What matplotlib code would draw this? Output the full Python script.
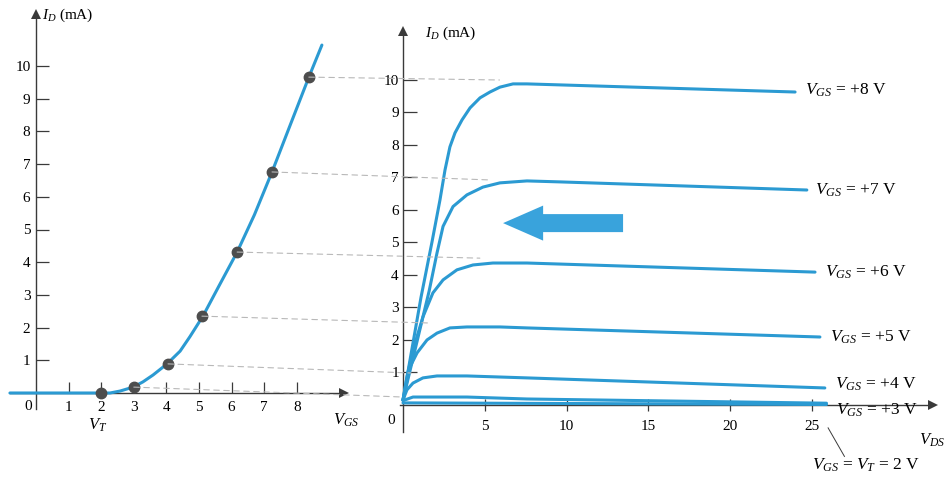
import matplotlib
matplotlib.use("Agg")
import matplotlib.pyplot as plt
from matplotlib.patches import ConnectionPatch, FancyArrow

plt.rcParams["font.family"] = ["Liberation Serif", "DejaVu Serif"]
plt.rcParams["mathtext.fontset"] = "custom"
plt.rcParams["mathtext.rm"] = "Liberation Serif"
plt.rcParams["mathtext.it"] = "Liberation Serif:italic"

# ---------------- data ----------------
# transfer characteristic (left)
vgs_curve = [-0.8, 2.0, 2.27, 2.58, 2.98, 3.28, 3.59, 4.02, 4.42, 4.72, 5.12, 5.6, 6.17, 6.7, 7.24, 7.8, 8.37, 8.77]
id_curve = [0.0, 0.0, 0.0, 0.06, 0.18, 0.34, 0.55, 0.89, 1.28, 1.72, 2.35, 3.25, 4.31, 5.45, 6.76, 8.2, 9.66, 10.64]
vgs_points = [2.0, 3.0, 4.05, 5.09, 6.17, 7.24, 8.37]
id_points = [0.0, 0.18, 0.89, 2.35, 4.31, 6.76, 9.66]

# drain characteristics (right)
vds_8 = [0, 1.1, 1.77, 2.26, 2.57, 2.87, 3.18, 3.61, 4.10, 4.71, 5.32, 5.93, 6.73, 7.58, 23.98]
id_8 = [0.14, 3.3, 5.0, 6.30, 7.23, 7.94, 8.37, 8.77, 9.14, 9.45, 9.63, 9.78, 9.88, 9.88, 9.63]
vds_7 = [0, 1.6, 2.08, 2.45, 3.06, 3.91, 4.89, 5.93, 7.58, 9.60, 24.7]
id_7 = [0.14, 3.5, 4.67, 5.49, 6.10, 6.46, 6.70, 6.83, 6.89, 6.86, 6.61]
vds_6 = [0, 0.24, 0.61, 1.22, 1.83, 2.45, 3.30, 4.28, 5.50, 7.58, 25.2]
id_6 = [0.14, 0.85, 1.68, 2.70, 3.44, 3.84, 4.15, 4.30, 4.36, 4.36, 4.08]
vds_5 = [0, 0.43, 0.86, 1.47, 2.08, 2.87, 3.91, 5.93, 7.58, 25.5]
id_5 = [0.14, 1.16, 1.59, 1.99, 2.20, 2.36, 2.39, 2.39, 2.36, 2.08]
vds_4 = [0, 0.24, 0.61, 1.22, 2.08, 3.91, 7.58, 25.8]
id_4 = [0.14, 0.45, 0.66, 0.82, 0.88, 0.88, 0.82, 0.51]
vds_3 = [0, 0.61, 3.91, 7.58, 25.9]
id_3 = [0.12, 0.23, 0.23, 0.17, 0.04]
vds_2 = [0, 25.9]
id_2 = [0.05, 0.0]

# projection guides (left dot -> right saturation level)
guide_id_right = [0.23, 0.97, 2.51, 4.51, 6.92, 10.0]
guide_vds_end = [0.0, 0.5, 1.7, 4.7, 5.3, 5.9]

left_xticks = [1, 2, 3, 4, 5, 6, 7, 8]
left_yticks = [1, 2, 3, 4, 5, 6, 7, 8, 9, 10]
right_xticks = [5, 10, 15, 20, 25]
right_yticks = [1, 2, 3, 4, 5, 6, 7, 8, 9, 10]

# ---------------- figure ----------------
W, H = 946, 480
fig = plt.figure(figsize=(W / 100, H / 100), dpi=100)
fig.patch.set_facecolor("white")

CURVE = "#2b9ad2"
AXC = "#3a3a3a"
FS = 11


def make_axes(pl, pr, pt, pb, ox, oy, sx, sy):
    ax = fig.add_axes([pl / W, 1 - pb / H, (pr - pl) / W, (pb - pt) / H])
    ax.set_xlim((pl - ox) / sx, (pr - ox) / sx)
    ax.set_ylim((oy - pb) / sy, (oy - pt) / sy)
    ax.patch.set_alpha(0)
    for s in ("top", "right"):
        ax.spines[s].set_visible(False)
    ax.spines["left"].set_position(("data", 0))
    ax.spines["bottom"].set_position(("data", 0))
    for s in ("left", "bottom"):
        ax.spines[s].set_color(AXC)
        ax.spines[s].set_linewidth(1.0)
    return ax


# ---- left axes ----
ax1 = make_axes(0, 365, 0, 480, 36, 393, 32.6, 32.7)
ax1.spines["bottom"].set_bounds(-0.8, 9.45)
ax1.spines["left"].set_bounds(-0.5, 11.6)
ax1.plot([9.45], [0], marker=">", ms=7, color=AXC, clip_on=False, mew=0)
ax1.plot([0], [11.6], marker="^", ms=7, color=AXC, clip_on=False, mew=0)
ax1.set_xticks(left_xticks)
ax1.set_yticks(left_yticks)
ax1.tick_params(axis="x", direction="in", length=8, width=0.9, color=AXC, pad=6, labelsize=FS)
ax1.tick_params(axis="y", direction="in", length=9, width=0.9, color=AXC, pad=4, labelsize=FS)
ax1.plot(vgs_curve, id_curve, color=CURVE, lw=2.2, zorder=3, solid_capstyle="round",
         solid_joinstyle="round")
ax1.plot(vgs_points, id_points, "o", color="#4d4d4d", ms=7.5, zorder=4)
ax1.text(0.18, 11.56, "$I_D$ (mA)", fontsize=FS, ha="left", va="center")
ax1.text(-0.25, -0.42, "0", fontsize=FS, ha="center", va="center")
ax1.text(1.9, -0.98, "$V_T$", fontsize=FS + 1, ha="center", va="center")
ax1.text(9.5, -0.83, "$V_{GS}$", fontsize=FS + 1, ha="center", va="center")

# ---- right axes ----
ax2 = make_axes(365, 946, 0, 480, 403, 404.5, 16.35, 32.45)
ax2.spines["bottom"].set_bounds(-0.2, 32.4)
ax2.spines["left"].set_bounds(-0.85, 11.5)
ax2.plot([32.4], [0], marker=">", ms=7, color=AXC, clip_on=False, mew=0)
ax2.plot([0], [11.5], marker="^", ms=7, color=AXC, clip_on=False, mew=0)
ax2.set_xticks(right_xticks)
ax2.set_yticks(right_yticks)
ax2.tick_params(axis="x", direction="inout", length=8, width=0.9, color=AXC, pad=7, labelsize=FS)
ax2.tick_params(axis="y", direction="in", length=10, width=0.9, color=AXC, pad=3, labelsize=FS)

for vx, iy in [(vds_8, id_8), (vds_7, id_7), (vds_6, id_6), (vds_5, id_5),
               (vds_4, id_4), (vds_3, id_3), (vds_2, id_2)]:
    ax2.plot(vx, iy, color=CURVE, lw=2.2, zorder=3, solid_capstyle="round", solid_joinstyle="round")

ax2.text(1.35, 11.45, "$I_D$ (mA)", fontsize=FS, ha="left", va="center")
ax2.text(-0.75, -0.5, "0", fontsize=FS, ha="center", va="center")
ax2.text(32.35, -1.1, "$V_{DS}$", fontsize=FS + 1, ha="center", va="center")

lab_fs = 12.5
labels = [
    (24.6, 9.69, "$V_{GS}$ = +8 V"),
    (25.2, 6.61, "$V_{GS}$ = +7 V"),
    (25.8, 4.08, "$V_{GS}$ = +6 V"),
    (26.1, 2.08, "$V_{GS}$ = +5 V"),
    (26.4, 0.63, "$V_{GS}$ = +4 V"),
    (26.5, -0.17, "$V_{GS}$ = +3 V"),
    (25.0, -1.86, "$V_{GS}$ = $V_T$ = 2 V"),
]
for x, y, t in labels:
    ax2.text(x, y, t, fontsize=lab_fs, ha="left", va="center")
ax2.plot([26.0, 27.0], [-0.72, -1.6], color=AXC, lw=0.7, clip_on=False)

# big arrow
arr = FancyArrow(13.46, 5.59, -7.34, 0, width=0.555, head_width=1.08, head_length=2.45,
                 length_includes_head=True, color="#39a3dc", lw=0, zorder=5)
ax2.add_patch(arr)

# dashed projection guides
for vg, il, ir, ve in zip(vgs_points[1:], id_points[1:], guide_id_right, guide_vds_end):
    cp = ConnectionPatch(xyA=(vg, il), coordsA=ax1.transData,
                         xyB=(ve, ir), coordsB=ax2.transData,
                         color="#b8b8b8", lw=0.8, linestyle=(0, (5, 4)), zorder=1)
    fig.add_artist(cp)

fig.savefig("out.png", dpi=100, facecolor="white")
